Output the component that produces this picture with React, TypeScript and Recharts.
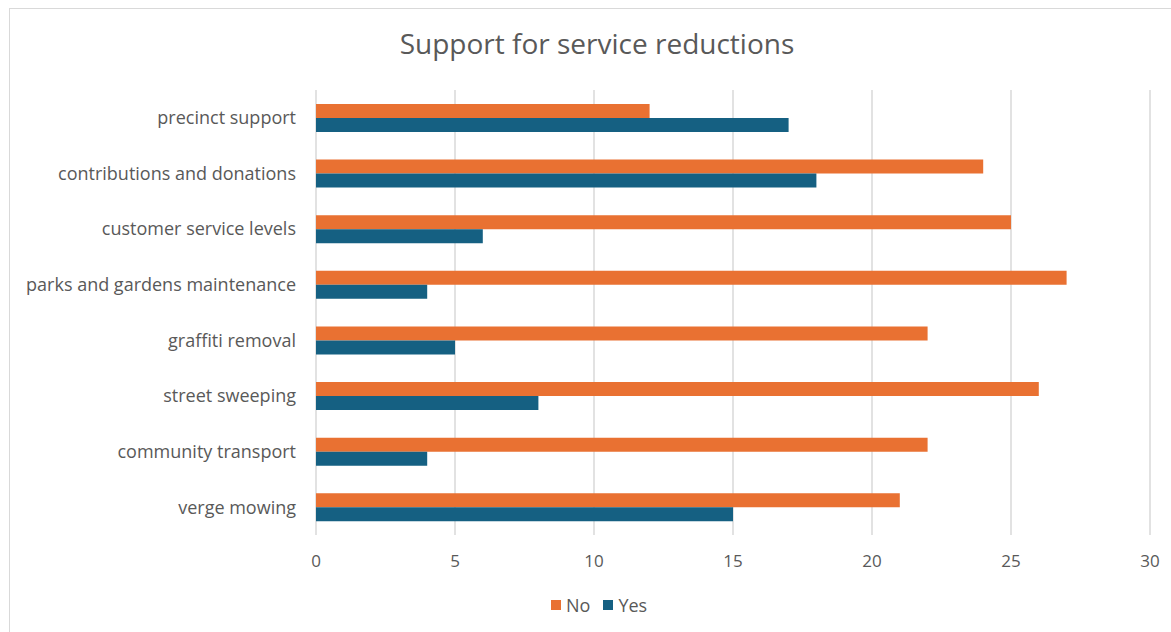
import React from "react";
import { BarChart, Bar, XAxis, YAxis, CartesianGrid } from "recharts";

const categories = [
  "precinct support",
  "contributions and donations",
  "customer service levels",
  "parks and gardens maintenance",
  "graffiti removal",
  "street sweeping",
  "community transport",
  "verge mowing",
];
const noValues = [12, 24, 25, 27, 22, 26, 22, 21];
const yesValues = [17, 18, 6, 4, 5, 8, 4, 15];
const xTicks = [0, 5, 10, 15, 20, 25, 30];

const data = categories.map((c, i) => ({ name: c, No: noValues[i], Yes: yesValues[i] }));

const FONT = "'Open Sans', sans-serif";
const TEXT = "#595959";
const ORANGE = "#E97132";
const BLUE = "#156082";

export default function App() {
  return (
    <div style={{ position: "absolute", left: 0, top: 0, width: 1171, height: 632, overflow: "hidden", background: "#fff", fontFamily: FONT }}>
      <div style={{ position: "absolute", left: 9, top: 8, width: 1180, height: 640, border: "1px solid #d9d9d9", boxSizing: "border-box" }} />
      <div style={{ position: "absolute", left: 9, width: 1176, top: 23, textAlign: "center", fontSize: 28, color: TEXT, lineHeight: "40px" }}>
        Support for service reductions
      </div>
      <div style={{ position: "absolute", left: 0, top: 0 }}>
        <BarChart
          width={1171}
          height={632}
          data={data}
          layout="vertical"
          margin={{ top: 90, right: 21, left: 0, bottom: 57 }}
          barCategoryGap="25%"
          barGap={0}
        >
          <CartesianGrid horizontal={false} stroke="#d9d9d9" strokeWidth={1.5} />
          <XAxis
            type="number"
            domain={[0, 30]}
            ticks={xTicks}
            axisLine={false}
            tickLine={false}
            tickSize={0}
            tickMargin={20}
            height={40}
            tick={{ fill: TEXT, fontSize: 17, fontFamily: FONT }}
          />
          <YAxis
            type="category"
            dataKey="name"
            width={316}
            axisLine={false}
            tickLine={false}
            tickSize={0}
            tickMargin={20}
            interval={0}
            tick={{ fill: TEXT, fontSize: 18, fontFamily: FONT }}
          />
          <Bar dataKey="No" fill={ORANGE} isAnimationActive={false} />
          <Bar dataKey="Yes" fill={BLUE} isAnimationActive={false} />
        </BarChart>
      </div>
      <div style={{ position: "absolute", left: 551, top: 592, display: "flex", alignItems: "center", fontSize: 18, color: TEXT, lineHeight: "26px" }}>
        <span style={{ width: 10, height: 10, background: ORANGE, display: "inline-block", marginRight: 5 }} />
        <span style={{ marginRight: 13 }}>No</span>
        <span style={{ width: 10, height: 10, background: BLUE, display: "inline-block", marginRight: 5 }} />
        <span>Yes</span>
      </div>
    </div>
  );
}
